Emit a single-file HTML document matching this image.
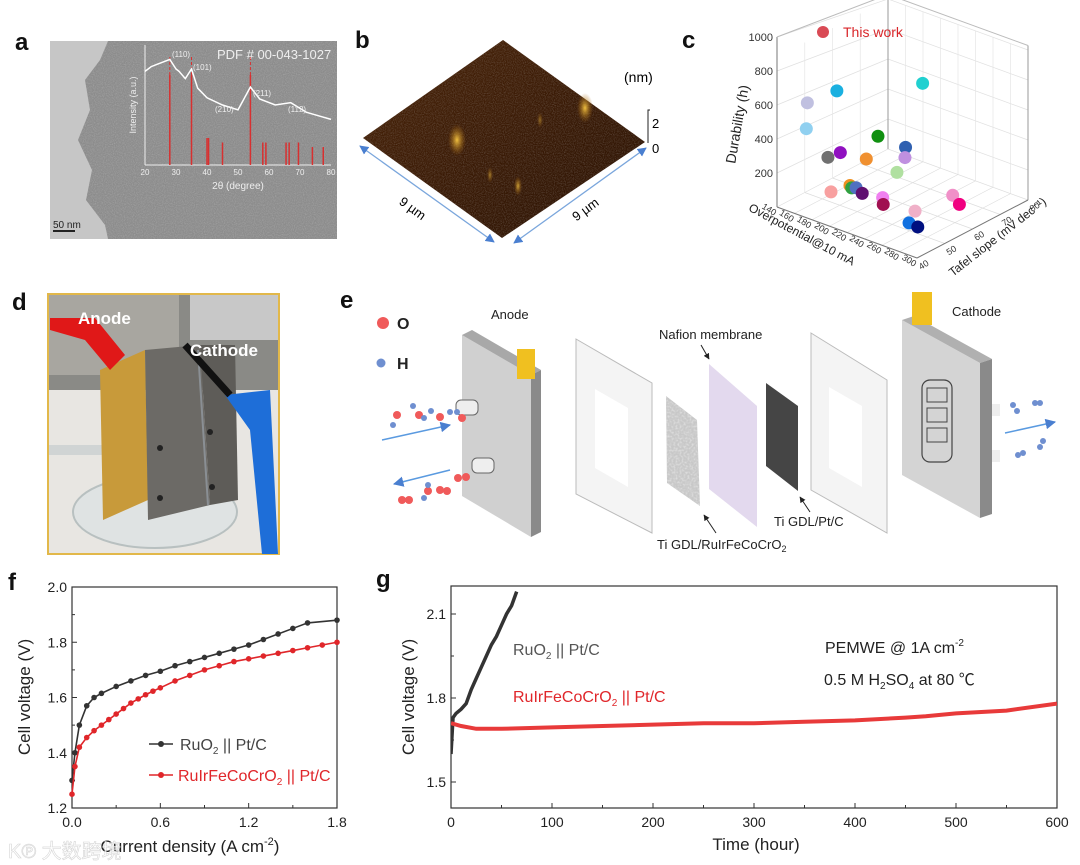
<!DOCTYPE html>
<html><head><meta charset="utf-8">
<style>
html,body{margin:0;padding:0;background:#fff;}
svg{display:block;font-family:"Liberation Sans","Noto Sans CJK SC",sans-serif;}
</style></head>
<body>
<svg id="fig" width="1080" height="865" viewBox="0 0 1080 865" xmlns="http://www.w3.org/2000/svg">
<defs>
<filter id="noise" x="0" y="0" width="100%" height="100%">
<feTurbulence type="fractalNoise" baseFrequency="0.9" numOctaves="2" seed="3"/>
<feColorMatrix type="matrix" values="0 0 0 0 0.5  0 0 0 0 0.5  0 0 0 0 0.5  0 0 0 -1.6 1.0"/>
</filter>
<filter id="noise2" x="0" y="0" width="100%" height="100%">
<feTurbulence type="fractalNoise" baseFrequency="0.5" numOctaves="2" seed="8"/>
<feColorMatrix type="matrix" values="0 0 0 0 0.85  0 0 0 0 0.85  0 0 0 0 0.85  0 0 0 -2 1.2"/>
</filter>
<clipPath id="afmclip"><polygon points="503,40 645,142 502,238 363,138"/></clipPath>
<clipPath id="gdlclip"><polygon points="666,396 697,420 700,506 667,483"/></clipPath>
<linearGradient id="afm" x1="0" y1="0" x2="1" y2="1">
<stop offset="0" stop-color="#4a2408"/><stop offset="0.5" stop-color="#3a1a05"/><stop offset="1" stop-color="#2a1203"/>
</linearGradient>
<radialGradient id="peak"><stop offset="0" stop-color="#f0c040"/><stop offset="1" stop-color="#a06010" stop-opacity="0"/></radialGradient>
<marker id="ab" viewBox="0 0 10 10" refX="9" refY="5" markerWidth="7" markerHeight="7" orient="auto-start-reverse"><path d="M0,0L10,5L0,10z" fill="#4a7fd0"/></marker>
<marker id="arrk" viewBox="0 0 10 10" refX="9" refY="5" markerWidth="6" markerHeight="6" orient="auto"><path d="M0,0L10,5L0,10z" fill="#222"/></marker>
</defs>

<g font-weight="bold" font-size="24" fill="#111">
<text x="15" y="50">a</text>
<text x="355" y="48">b</text>
<text x="682" y="48">c</text>
<text x="12" y="310">d</text>
<text x="340" y="308">e</text>
<text x="8" y="590">f</text>
<text x="376" y="587">g</text>
</g>

<g>
<rect x="50" y="41" width="287" height="198" fill="#8c8c8c"/>
<rect x="50" y="41" width="287" height="198" filter="url(#noise)" opacity="0.55"/>
<path d="M50,41 L108,41 L100,60 L85,80 L90,110 L78,140 L92,170 L86,200 L105,225 L108,239 L50,239Z" fill="#c6c6c6"/>
<line x1="53" y1="231" x2="75" y2="231" stroke="#222" stroke-width="2"/>
<text x="53" y="228" font-size="10" fill="#222">50 nm</text>
<g id="xrd"></g>
<text x="217" y="59" font-size="13" fill="#eee">PDF # 00-043-1027</text>
</g>

<g>
<polygon points="503,40 645,142 502,238 363,138" fill="url(#afm)"/>
<g clip-path="url(#afmclip)"><rect x="363" y="40" width="282" height="198" fill="#3a1a05" filter="url(#noise)" opacity="0.35"/></g>
<ellipse cx="457" cy="140" rx="9" ry="16" fill="url(#peak)"/>
<ellipse cx="585" cy="108" rx="8" ry="15" fill="url(#peak)"/>
<ellipse cx="518" cy="186" rx="4" ry="10" fill="url(#peak)" opacity="0.8"/>
<ellipse cx="490" cy="175" rx="3" ry="8" fill="url(#peak)" opacity="0.6"/>
<ellipse cx="540" cy="120" rx="3" ry="8" fill="url(#peak)" opacity="0.5"/>
<line x1="360" y1="146" x2="494" y2="242" stroke="#7aa6dc" stroke-width="1.3" marker-start="url(#ab)" marker-end="url(#ab)"/>
<line x1="514" y1="243" x2="646" y2="148" stroke="#7aa6dc" stroke-width="1.3" marker-start="url(#ab)" marker-end="url(#ab)"/>
<text x="410" y="212" font-size="13" transform="rotate(36 410 212)" text-anchor="middle">9 µm</text>
<text x="588" y="213" font-size="13" transform="rotate(-36 588 213)" text-anchor="middle">9 µm</text>
<text x="624" y="82" font-size="14">(nm)</text>
<path d="M650,110 L648,110 L648,143" stroke="#222" fill="none"/>
<text x="652" y="128" font-size="13">2</text>
<text x="652" y="153" font-size="13">0</text>
</g>

<g id="p3d"></g>

<g>
<rect x="48" y="294" width="231" height="260" fill="#e8e6e2" stroke="#e2b84a" stroke-width="2"/>
<rect x="49" y="295" width="229" height="95" fill="#8a8a86"/>
<rect x="49" y="295" width="130" height="80" fill="#a8a6a0"/>
<rect x="190" y="295" width="88" height="45" fill="#c8c8c8"/>
<ellipse cx="155" cy="512" rx="82" ry="36" fill="#dfe3e3" stroke="#b8c0c0" stroke-width="2"/>
<rect x="49" y="445" width="70" height="10" fill="#d0d4d4"/>
<polygon points="100,370 145,350 148,500 103,520" fill="#c89a3a"/>
<polygon points="145,350 200,345 210,505 148,520" fill="#6c6a66"/>
<polygon points="200,345 235,345 238,500 210,505" fill="#5e5c58"/>
<line x1="198" y1="350" x2="208" y2="505" stroke="#8a8f94" stroke-width="2"/>
<circle cx="160" cy="448" r="3" fill="#222"/><circle cx="160" cy="498" r="3" fill="#222"/>
<circle cx="210" cy="432" r="3" fill="#222"/><circle cx="212" cy="487" r="3" fill="#222"/>
<path d="M225,395 L270,390 L278,554 L262,554 L250,430 Z" fill="#1e6ed8"/>
<path d="M50,318 L95,318 L125,355 L110,370 L85,340 L50,330Z" fill="#e01818"/>
<path d="M185,345 L230,395" stroke="#111" stroke-width="7"/>
<text x="78" y="324" font-size="17" font-weight="bold" fill="#fff">Anode</text>
<text x="190" y="356" font-size="17" font-weight="bold" fill="#fff">Cathode</text>
</g>

<g font-size="13" fill="#222">
<circle cx="383" cy="323" r="6" fill="#f05a5a"/><text x="397" y="329" font-size="16" font-weight="bold">O</text>
<circle cx="381" cy="363" r="4.5" fill="#6f8fd0"/><text x="397" y="369" font-size="16" font-weight="bold">H</text>
<text x="491" y="319">Anode</text>
<polygon points="462,335 531,375 531,537 462,496" fill="#d0d0d0"/>
<polygon points="462,335 472,330 541,370 531,375" fill="#a8a8a8"/>
<polygon points="531,375 541,370 541,532 531,537" fill="#8a8a8a"/>
<rect x="517" y="349" width="18" height="30" fill="#f0c020"/>
<rect x="456" y="400" width="22" height="15" rx="5" fill="#eee" stroke="#666"/>
<rect x="472" y="458" width="22" height="15" rx="5" fill="#eee" stroke="#666"/>
<line x1="382" y1="440" x2="450" y2="425" stroke="#5a9ae0" stroke-width="1.5" marker-end="url(#ab)"/>
<line x1="450" y1="470" x2="394" y2="484" stroke="#5a9ae0" stroke-width="1.5" marker-end="url(#ab)"/>
<g fill="#f05a5a"><circle cx="397" cy="415" r="4"/><circle cx="419" cy="415" r="4"/><circle cx="440" cy="417" r="4"/><circle cx="462" cy="418" r="4"/><circle cx="402" cy="500" r="4"/><circle cx="409" cy="500" r="4"/><circle cx="440" cy="490" r="4"/><circle cx="447" cy="491" r="4"/><circle cx="458" cy="478" r="4"/><circle cx="466" cy="477" r="4"/><circle cx="428" cy="491" r="4"/></g>
<g fill="#6f8fd0"><circle cx="393" cy="425" r="3"/><circle cx="413" cy="406" r="3"/><circle cx="424" cy="418" r="3"/><circle cx="431" cy="411" r="3"/><circle cx="450" cy="412" r="3"/><circle cx="457" cy="412" r="3"/><circle cx="424" cy="498" r="3"/><circle cx="428" cy="485" r="3"/></g>
<polygon points="576,339 652,383 652,533 576,494" fill="#f4f4f4" stroke="#bbb"/>
<polygon points="595,389 628,408 628,487 595,468" fill="#fff"/>
<polygon points="666,396 697,420 700,506 667,483" fill="#c8c8c8"/>
<g clip-path="url(#gdlclip)"><rect x="666" y="396" width="34" height="110" filter="url(#noise2)" opacity="0.7"/></g>
<polygon points="709,364 757,406 757,527 709,489" fill="#e3d9ee"/>
<polygon points="766,383 798,406 798,491 766,466" fill="#454545"/>
<polygon points="811,333 887,380 887,533 811,490" fill="#f4f4f4" stroke="#bbb"/>
<polygon points="829,387 862,406 862,487 829,468" fill="#fff"/>
<polygon points="902,320 980,363 980,518 902,475" fill="#d4d4d4"/>
<polygon points="902,320 914,316 992,359 980,363" fill="#b0b0b0"/>
<polygon points="980,363 992,359 992,514 980,518" fill="#8a8a8a"/>
<rect x="912" y="292" width="20" height="33" fill="#f0c020"/>
<rect x="922" y="380" width="30" height="82" rx="8" fill="none" stroke="#444" stroke-width="1.2"/>
<rect x="927" y="388" width="20" height="14" fill="none" stroke="#444"/><rect x="927" y="408" width="20" height="14" fill="none" stroke="#444"/><rect x="927" y="428" width="20" height="14" fill="none" stroke="#444"/>
<rect x="992" y="404" width="8" height="12" fill="#eee"/><rect x="992" y="450" width="8" height="12" fill="#eee"/>
<line x1="1005" y1="433" x2="1055" y2="422" stroke="#5a9ae0" stroke-width="1.5" marker-end="url(#ab)"/>
<g fill="#6f8fd0"><circle cx="1013" cy="405" r="3"/><circle cx="1017" cy="411" r="3"/><circle cx="1035" cy="403" r="3"/><circle cx="1040" cy="403" r="3"/><circle cx="1018" cy="455" r="3"/><circle cx="1023" cy="453" r="3"/><circle cx="1040" cy="447" r="3"/><circle cx="1043" cy="441" r="3"/></g>
<text x="659" y="339">Nafion membrane</text>
<line x1="701" y1="345" x2="709" y2="359" stroke="#222" marker-end="url(#arrk)"/>
<text x="952" y="316">Cathode</text>
<text x="774" y="526">Ti GDL/Pt/C</text>
<line x1="810" y1="512" x2="800" y2="497" stroke="#222" marker-end="url(#arrk)"/>
<text x="657" y="549">Ti GDL/RuIrFeCoCrO<tspan font-size="9" dy="3">2</tspan></text>
<line x1="716" y1="533" x2="704" y2="515" stroke="#222" marker-end="url(#arrk)"/>
</g>

<g id="pf"></g>
<g id="pg"></g>

<text x="8" y="858" font-size="20" fill="#ffffff" stroke="#ccc" stroke-width="0.6" opacity="0.8">K℗ 大数跨境</text>
</svg>

<script>
const fCurrent = [0, 0.02, 0.05, 0.1, 0.15, 0.2, 0.3, 0.4, 0.5, 0.6, 0.7, 0.8, 0.9, 1.0, 1.1, 1.2, 1.3, 1.4, 1.5, 1.6, 1.8];
const fRuO2 = [1.30, 1.40, 1.50, 1.57, 1.60, 1.615, 1.64, 1.66, 1.68, 1.695, 1.715, 1.73, 1.745, 1.76, 1.775, 1.79, 1.81, 1.83, 1.85, 1.87, 1.88];
const fCurrentRed = [0, 0.02, 0.05, 0.1, 0.15, 0.2, 0.25, 0.3, 0.35, 0.4, 0.45, 0.5, 0.55, 0.6, 0.7, 0.8, 0.9, 1.0, 1.1, 1.2, 1.3, 1.4, 1.5, 1.6, 1.7, 1.8];
const fHEO = [1.25, 1.35, 1.42, 1.455, 1.48, 1.50, 1.52, 1.54, 1.56, 1.58, 1.595, 1.61, 1.623, 1.635, 1.66, 1.68, 1.70, 1.715, 1.73, 1.74, 1.75, 1.76, 1.77, 1.78, 1.79, 1.80];
const fXTicks = [0.0, 0.6, 1.2, 1.8];
const fYTicks = [1.2, 1.4, 1.6, 1.8, 2.0];
const gTimeRuO2 = [0, 2, 5, 10, 15, 20, 25, 30, 35, 40, 45, 50, 55, 60, 65];
const gRuO2 = [1.60, 1.73, 1.745, 1.76, 1.78, 1.83, 1.87, 1.91, 1.95, 1.99, 2.02, 2.06, 2.10, 2.13, 2.18];
const gTimeHEO = [0, 10, 25, 50, 100, 150, 200, 250, 300, 350, 400, 450, 470, 500, 550, 600];
const gHEO = [1.71, 1.70, 1.69, 1.69, 1.695, 1.70, 1.705, 1.71, 1.71, 1.715, 1.72, 1.73, 1.735, 1.745, 1.755, 1.78];
const gXTicks = [0, 100, 200, 300, 400, 500, 600];
const gYTicks = [1.5, 1.8, 2.1];
const cOverpotential = [184,162,164,243,211,233,176,187,204,226,220,170,179,181,186,193,210,217,247,252,266,256,266];
const cTafel = [47.7,44,43,60,54,57,47,48,52,59,58,50,54,54,54,54,56,54,56,68,66,51,51];
const cDurability = [700,620,480,750,430,380,300,340,300,290,200,60,80,70,80,60,50,40,40,40,30,30,25];
const cColors = ["#1ab0e0","#c0c0e0","#90d0f0","#20d0d0","#109010","#3060b0","#707070","#9010c0","#f09030","#c090e0","#b0e0a0","#f8a0a0","#f09020","#30a040","#5070c0","#601070","#f080f0","#a01050","#f0b0c8","#f090c8","#f00080","#1070e0","#001080"];
const cZTicks = [200, 400, 600, 800, 1000];
const cOvTicks = [140,160,180,200,220,240,260,280,300];
const cTafTicks = [40,50,60,70,80];
const xrdRefPos = [28,35,40,40.5,45,54,58,59,65.5,66.5,69.5,74,77.5];
const xrdRefInt = [100,100,30,30,25,100,25,25,25,25,25,20,20];
const xrdAngle = [20,22,24,26,28,30,31,33,35,37,40,45,50,54,57,62,67,72,76,80];
const xrdSignal = [78,82,84,86,88,80,78,72,80,64,56,50,46,65,55,50,52,44,41,38];

const NS = "http://www.w3.org/2000/svg";
function mk(parent, tag, attrs, text){
  const e = document.createElementNS(NS, tag);
  for (const k in attrs) e.setAttribute(k, attrs[k]);
  if (text !== undefined) e.textContent = text;
  parent.appendChild(e);
  return e;
}

(function(){
  const g = document.getElementById('pf');
  const L=72,R=337,T=587,B=808;
  const xF = v => L + v/1.8*(R-L);
  const yF = v => B - (v-1.2)/0.8*(B-T);
  const box = mk(g,'rect',{x:L,y:T,width:R-L,height:B-T,fill:'none',stroke:'#333','stroke-width':1.2});
  
  
  fXTicks.forEach(v=>{
    mk(g,'line',{x1:xF(v),y1:B,x2:xF(v),y2:B-5,stroke:'#333'});
    const t = mk(g,'text',{x:xF(v),y:B+19,'font-size':14,'text-anchor':'middle',fill:'#222'}, v.toFixed(1));
    
    
  });
  for(let v=0.3; v<1.8; v+=0.6){ mk(g,'line',{x1:xF(v),y1:B,x2:xF(v),y2:B-3,stroke:'#333'}); }
  fYTicks.forEach(v=>{
    mk(g,'line',{x1:L,y1:yF(v),x2:L+5,y2:yF(v),stroke:'#333'});
    const t = mk(g,'text',{x:L-5,y:yF(v)+5,'font-size':14,'text-anchor':'end',fill:'#222'}, v.toFixed(1));
    
    
  });
  for(let v=1.3; v<2.0; v+=0.2){ mk(g,'line',{x1:L,y1:yF(v),x2:L+3,y2:yF(v),stroke:'#333'}); }
  const xt = mk(g,'text',{x:190,y:852,'font-size':17,'text-anchor':'middle',fill:'#222'},'Current density (A cm');
  mk(xt,'tspan',{'font-size':11,dy:-7},'-2');
  mk(xt,'tspan',{dy:7},')');
  
  
  const yt = mk(g,'text',{x:30,y:697,'font-size':17,'text-anchor':'middle',fill:'#222',transform:'rotate(-90 30 697)'},'Cell voltage (V)');
  
  
  function series(xs, ys, color, name){
    const p = mk(g,'polyline',{points:xs.map((x,i)=>xF(x)+','+yF(ys[i])).join(' '),fill:'none',stroke:color,'stroke-width':1.6});
    
    
    xs.forEach((x,i)=>{
      const c = mk(g,'circle',{cx:xF(x),cy:yF(ys[i]),r:2.8,fill:color});
      
      
    });
  }
  series(fCurrent,fRuO2,'#333','ruo2');
  series(fCurrentRed,fHEO,'#e0262a','ruirfecocro2');
  mk(g,'line',{x1:149,y1:744,x2:173,y2:744,stroke:'#333','stroke-width':1.6});
  mk(g,'circle',{cx:161,cy:744,r:3,fill:'#333'});
  const l1 = mk(g,'text',{x:180,y:750,'font-size':16,fill:'#444'},'RuO');
  mk(l1,'tspan',{'font-size':10,dy:4},'2');
  mk(l1,'tspan',{dy:-4},' || Pt/C');
  
  
  mk(g,'line',{x1:149,y1:775,x2:173,y2:775,stroke:'#e0262a','stroke-width':1.6});
  mk(g,'circle',{cx:161,cy:775,r:3,fill:'#e0262a'});
  const l2 = mk(g,'text',{x:178,y:781,'font-size':16,fill:'#e0262a'},'RuIrFeCoCrO');
  mk(l2,'tspan',{'font-size':10,dy:4},'2');
  mk(l2,'tspan',{dy:-4},' || Pt/C');
  
  
})();

(function(){
  const g = document.getElementById('pg');
  const L=451,R=1057,T=586,B=808;
  const xG = t => L + t/600*(R-L);
  const yG = v => 614 + (2.1-v)/0.3*84;
  const clip = mk(g,'clipPath',{id:'gclip'});
  mk(clip,'rect',{x:L,y:T,width:R-L,height:B-T});
  const box = mk(g,'rect',{x:L,y:T,width:R-L,height:B-T,fill:'none',stroke:'#333','stroke-width':1.2});
  
  
  gXTicks.forEach(v=>{
    mk(g,'line',{x1:xG(v),y1:B,x2:xG(v),y2:B-5,stroke:'#333'});
    const t = mk(g,'text',{x:xG(v),y:B+19,'font-size':14,'text-anchor':'middle',fill:'#222'}, String(v));
    
    
  });
  for(let v=50; v<600; v+=100){ mk(g,'line',{x1:xG(v),y1:B,x2:xG(v),y2:B-3,stroke:'#333'}); }
  gYTicks.forEach(v=>{
    mk(g,'line',{x1:L,y1:yG(v),x2:L+5,y2:yG(v),stroke:'#333'});
    const t = mk(g,'text',{x:L-5,y:yG(v)+5,'font-size':14,'text-anchor':'end',fill:'#222'}, v.toFixed(1));
    
    
  });
  [1.65,1.95].forEach(v=>mk(g,'line',{x1:L,y1:yG(v),x2:L+3,y2:yG(v),stroke:'#333'}));
  const xt = mk(g,'text',{x:756,y:850,'font-size':17,'text-anchor':'middle',fill:'#222'},'Time (hour)');
  
  
  const yt = mk(g,'text',{x:414,y:697,'font-size':17,'text-anchor':'middle',fill:'#222',transform:'rotate(-90 414 697)'},'Cell voltage (V)');
  
  
  const p1 = mk(g,'polyline',{points:gTimeRuO2.map((x,i)=>xG(x)+','+yG(gRuO2[i])).join(' '),fill:'none',stroke:'#333','stroke-width':3.5,'clip-path':'url(#gclip)'});
  
  
  const p2 = mk(g,'polyline',{points:gTimeHEO.map((x,i)=>xG(x)+','+yG(gHEO[i])).join(' '),fill:'none',stroke:'#e83a3a','stroke-width':4,'clip-path':'url(#gclip)'});
  
  
  const a1 = mk(g,'text',{x:513,y:655,'font-size':16,fill:'#555'},'RuO');
  mk(a1,'tspan',{'font-size':10,dy:4},'2');
  mk(a1,'tspan',{dy:-4},' || Pt/C');
  
  
  const a2 = mk(g,'text',{x:513,y:702,'font-size':16,fill:'#e0262a'},'RuIrFeCoCrO');
  mk(a2,'tspan',{'font-size':10,dy:4},'2');
  mk(a2,'tspan',{dy:-4},' || Pt/C');
  
  
  const a3 = mk(g,'text',{x:825,y:653,'font-size':16,fill:'#222'},'PEMWE @ 1A cm');
  mk(a3,'tspan',{'font-size':10,dy:-7},'-2');
  
  
  const a4 = mk(g,'text',{x:824,y:685,'font-size':16,fill:'#222'},'0.5 M H');
  mk(a4,'tspan',{'font-size':10,dy:4},'2');
  mk(a4,'tspan',{dy:-4},'SO');
  mk(a4,'tspan',{'font-size':10,dy:4},'4');
  mk(a4,'tspan',{dy:-4},' at 80 ℃');
  
  
})();

(function(){
  const g = document.getElementById('p3d');
  const O = [777,207];
  const proj = (ov,taf,d) => [O[0] + (ov-140)/160*140 + (taf-40)/40*111,
                             O[1] + (ov-140)/160*51 - (taf-40)/40*58 - d*0.17];
  const line = (a,b,st,w) => mk(g,'line',{x1:a[0],y1:a[1],x2:b[0],y2:b[1],stroke:st,'stroke-width':w||0.7});
  // back walls drawn with slightly compressed height (perspective)
  const back = (ov,taf,d) => { const p = proj(ov,taf,0); return [p[0], p[1] - d*0.15]; };
  cZTicks.forEach(d=>{
    line(proj(140,40,d),back(140,80,d),'#e0e0e0');
    line(back(140,80,d),back(300,80,d),'#e0e0e0');
  });
  cOvTicks.forEach(ov=>{ line(proj(ov,40,0),proj(ov,80,0),'#ddd'); line(back(ov,80,0),back(ov,80,1000),'#e6e6e6'); });
  cTafTicks.forEach(t=>{ line(proj(140,t,0),proj(300,t,0),'#ddd'); line(proj(140,t,0),back(140,t,1000),'#e6e6e6'); });
  line(proj(140,40,0),proj(140,40,1000),'#777',1);
  line(back(140,80,0),back(140,80,1030),'#999',1);
  line(back(300,80,0),back(300,80,1030),'#999',1);
  line(proj(140,40,1000),back(140,80,1030),'#bbb',1);
  line(back(140,80,1030),back(300,80,1030),'#bbb',1);
  line(proj(140,40,0),proj(300,40,0),'#777',1);
  line(proj(300,40,0),proj(300,80,0),'#777',1);
  cZTicks.forEach(d=>{
    const p = proj(140,40,d);
    const t = mk(g,'text',{x:p[0]-4,y:p[1]+4,'font-size':11,'text-anchor':'end',fill:'#333'}, String(d));
    
    
  });
  cOvTicks.forEach(ov=>{
    const p = proj(ov,40,0);
    const t = mk(g,'text',{x:p[0]-3,y:p[1]+9,'font-size':9,'text-anchor':'end',fill:'#333',transform:`rotate(32 ${p[0]-3} ${p[1]+9})`}, String(ov));
    
    
  });
  cTafTicks.forEach(tf=>{
    const p = proj(300,tf,0);
    const t = mk(g,'text',{x:p[0]+4,y:p[1]+12,'font-size':9,fill:'#333',transform:`rotate(-32 ${p[0]+4} ${p[1]+12})`}, String(tf));
    
    
  });
  const zt = mk(g,'text',{x:742,y:125,'font-size':14,'text-anchor':'middle',fill:'#222',transform:'rotate(-80 742 125)'},'Durability (h)');
  
  
  const xt = mk(g,'text',{x:800,y:238,'font-size':12,'text-anchor':'middle',fill:'#222',transform:'rotate(28 800 238)'},'Overpotential@10 mA');
  
  
  const yt = mk(g,'text',{x:1000,y:240,'font-size':12,'text-anchor':'middle',fill:'#222',transform:'rotate(-38 1000 240)'},'Tafel slope (mV dec⁻¹)');
  
  
  cDurability.forEach((d,i)=>{
    const p = proj(cOverpotential[i],cTafel[i],d);
    const c = mk(g,'circle',{cx:p[0],cy:p[1],r:6.5,fill:cColors[i]});
    
    
  });
  mk(g,'circle',{cx:823,cy:32,r:6,fill:'#d94a55'});
  const lt = mk(g,'text',{x:843,y:37,'font-size':14,fill:'#d9262a'},'This work');
  
  
})();

(function(){
  const g = document.getElementById('xrd');
  const L=145,R=331,T=45,B=165;
  const xX = a => L + (a-20)/60*(R-L);
  const yX = v => B - v/100*(B-T);
  mk(g,'line',{x1:L,y1:T,x2:L,y2:B,stroke:'#eee'});
  mk(g,'line',{x1:L,y1:B,x2:R,y2:B,stroke:'#eee'});
  xrdRefPos.forEach((a,i)=>{
    const b = mk(g,'line',{x1:xX(a),y1:B,x2:xX(a),y2:yX(xrdRefInt[i]*0.75),stroke:'#d83030','stroke-width':1.5});
    
    
  });
  [28,35,54].forEach(a=>mk(g,'line',{x1:xX(a),y1:yX(75),x2:xX(a),y2:T+10,stroke:'#d83030','stroke-dasharray':'3,2'}));
  const p = mk(g,'polyline',{points:xrdAngle.map((a,i)=>xX(a)+','+yX(xrdSignal[i])).join(' '),fill:'none',stroke:'#fff','stroke-width':1.5});
  
  
  [20,30,40,50,60,70,80].forEach(a=>{ mk(g,'text',{x:xX(a),y:B+10,'font-size':8,'text-anchor':'middle',fill:'#eee'},String(a)); });
  mk(g,'text',{x:238,y:189,'font-size':10,'text-anchor':'middle',fill:'#eee'},'2θ (degree)');
  mk(g,'text',{x:136,y:105,'font-size':9,'text-anchor':'middle',fill:'#eee',transform:'rotate(-90 136 105)'},'Intensity (a.u.)');
  [['(110)',172,57],['(101)',193,70],['(210)',215,112],['(211)',253,96],['(112)',288,112]].forEach(a=>mk(g,'text',{x:a[1],y:a[2],'font-size':8,fill:'#eee'},a[0]));
})();
</script>
</body></html>
